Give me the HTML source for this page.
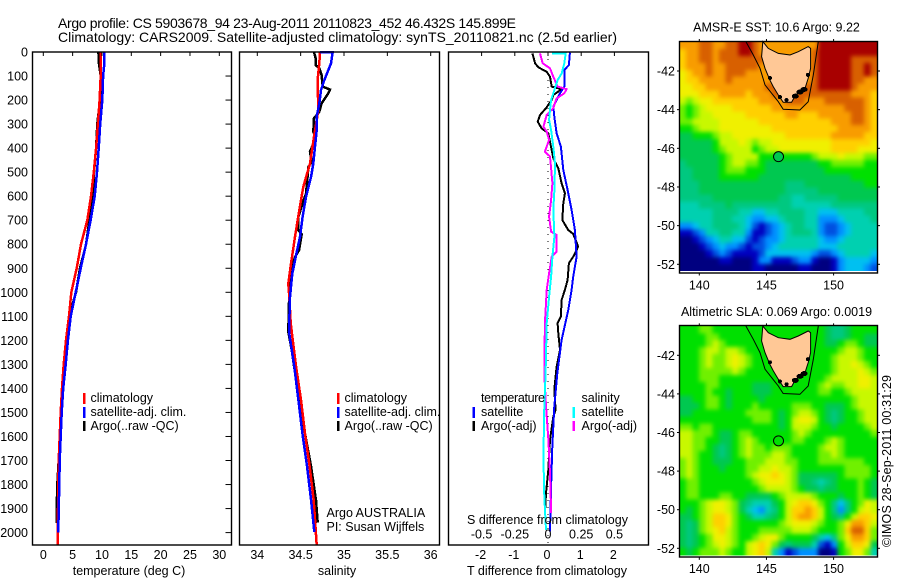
<!DOCTYPE html>
<html>
<head>
<meta charset="utf-8">
<title>Argo profile</title>
<style>
html,body{margin:0;padding:0;background:#fff;}
svg{display:block;}
text{font-family:"Liberation Sans",sans-serif;font-size:12.5px;fill:#000;}
.frame{fill:none;stroke:#000;stroke-width:1.4;}
</style>
</head>
<body>
<svg id="chart" width="900" height="580" viewBox="0 0 900 580" xmlns="http://www.w3.org/2000/svg">
  <defs>
    <filter id="soften" x="-5%" y="-5%" width="110%" height="110%" color-interpolation-filters="sRGB">
      <feGaussianBlur stdDeviation="2"/>
    </filter>
    <clipPath id="clip-sst"><rect x="679.5" y="42" width="198" height="229"/></clipPath>
    <clipPath id="clip-sla"><rect x="679.5" y="326" width="198" height="229.5"/></clipPath>
  </defs>
  <text x="58" y="28" style="font-size:14px" textLength="458">Argo profile: CS 5903678_94 23-Aug-2011 20110823_452 46.432S 145.899E</text>
  <text x="58" y="42" style="font-size:14px" textLength="559">Climatology: CARS2009. Satellite-adjusted climatology: synTS_20110821.nc (2.5d earlier)</text>

  <g clip-path="url(#clip-sst)"><g id="heat-sst" filter="url(#soften)"></g></g>
  <g clip-path="url(#clip-sla)"><g id="heat-sla" filter="url(#soften)"></g></g>
  <g id="marks"></g>

  <rect class="frame" x="32.5" y="52" width="199" height="493"/>
  <rect class="frame" x="239.5" y="52" width="200" height="493"/>
  <rect class="frame" x="448.5" y="52" width="200" height="493"/>
  <rect class="frame" x="679.5" y="41.5" width="198" height="231.5"/>
  <rect class="frame" x="679.5" y="325.5" width="198" height="231.5"/>

  <g>
    <text x="90.5" y="402">climatology</text>
    <text x="90.5" y="416">satellite-adj. clim.</text>
    <text x="90.5" y="430">Argo(..raw -QC)</text>
    <rect x="83" y="393" width="2.5" height="11" fill="#f00"/>
    <rect x="83" y="407" width="2.5" height="11" fill="#00f"/>
    <rect x="83" y="421" width="2.5" height="10" fill="#000"/>
  </g>
  <g>
    <text x="344.5" y="402">climatology</text>
    <text x="344.5" y="416">satellite-adj. clim.</text>
    <text x="344.5" y="430">Argo(..raw -QC)</text>
    <rect x="337" y="393" width="2.5" height="11" fill="#f00"/>
    <rect x="337" y="407" width="2.5" height="11" fill="#00f"/>
    <rect x="337" y="421" width="2.5" height="10" fill="#000"/>
    <text x="326.5" y="517">Argo AUSTRALIA</text>
    <text x="326.5" y="531">PI: Susan Wijffels</text>
  </g>
  <g>
    <text x="481" y="402" textLength="64">temperature</text>
    <text x="481" y="416">satellite</text>
    <text x="481" y="430">Argo(-adj)</text>
    <rect x="472.5" y="407" width="2.5" height="11" fill="#00f"/>
    <rect x="472.5" y="421" width="2.5" height="10" fill="#000"/>
    <text x="581.5" y="402">salinity</text>
    <text x="581.5" y="416">satellite</text>
    <text x="581.5" y="430">Argo(-adj)</text>
    <rect x="572.5" y="407" width="2.5" height="11" fill="#0ff"/>
    <rect x="572.5" y="421" width="2.5" height="10" fill="#f0f"/>
  </g>

  <text x="129" y="575" text-anchor="middle">temperature (deg C)</text>
  <text x="337" y="575" text-anchor="middle">salinity</text>
  <text x="547" y="575" text-anchor="middle">T difference from climatology</text>
  <text x="547.5" y="524" text-anchor="middle">S difference from climatology</text>
  <text x="776.5" y="31.5" text-anchor="middle">AMSR-E SST: 10.6 Argo: 9.22</text>
  <text x="776.5" y="316" text-anchor="middle">Altimetric SLA: 0.069 Argo: 0.0019</text>
  <text x="891" y="547" transform="rotate(-90 891 547)" textLength="172">©IMOS 28-Sep-2011 00:31:29</text>
</svg>
<script>
// ---- profile data ----
const tempTicks = [0, 5, 10, 15, 20, 25, 30];
const salTicks = [34, 34.5, 35, 35.5, 36];
const salTickLabels = ['34', '34.5', '35', '35.5', '36'];
const tDiffTicks = [-2, -1, 0, 1, 2];
const sDiffTicks = [-0.5, -0.25, 0, 0.25, 0.5];
const sDiffTickLabels = ['-0.5', '-0.25', '0', '0.25', '0.5'];
const depthTicks = [0,100,200,300,400,500,600,700,800,900,1000,1100,1200,1300,1400,1500,1600,1700,1800,1900,2000];

const tempDepthClim = [0,100,200,300,400,500,600,700,800,900,1000,1100,1200,1300,1400,1500,1600,1700,1800,1900,2000,2052];
const tempClim = [9.83,9.78,9.6,9.3,9.0,8.6,8.13,7.5,6.43,5.7,4.78,4.38,3.87,3.47,3.19,2.96,2.79,2.62,2.56,2.5,2.45,2.45];
const tempDepthSat = [0,50,100,200,300,400,500,600,700,800,900,1000,1100,1200,1300,1400,1500,1600,1700,1800,1900,2000];
const tempSat = [10.35,10.4,10.2,10.05,9.7,9.44,9.15,8.76,8.07,7.28,6.37,5.52,4.67,4.2,3.82,3.4,3.13,2.96,2.79,2.73,2.62,2.56];
const tempDepthArgo = [0,50,100,200,300,400,500,600,700,800,900,1000,1100,1200,1300,1400,1500,1600,1700,1800,1900,1960];
const tempArgo = [9.4,9.5,9.78,9.66,9.2,9.0,8.64,8.5,7.85,7.3,6.25,5.57,4.4,3.98,3.6,3.3,3.1,2.85,2.62,2.39,2.28,2.28];

const salDepthClim = [0,47,117,242,353,464,561,658,769,881,964,1019,1129,1310,1448,1587,1726,1865,2052];
const salClim = [34.723,34.715,34.696,34.704,34.654,34.608,34.531,34.485,34.435,34.389,34.358,34.369,34.385,34.447,34.504,34.55,34.604,34.65,34.685];
const salDepthSat = [0,0,47,75,117,158,214,269,325,394,464,519,603,686,769,853,922,1019,1164,1310,1448,1587,1726,1865,1997];
const salSat = [34.723,34.87,34.85,34.82,34.773,34.735,34.715,34.685,34.685,34.665,34.646,34.62,34.562,34.523,34.493,34.443,34.404,34.377,34.366,34.427,34.474,34.52,34.574,34.62,34.658];
const salDepthArgo = [0,26,54,68,96,144,156,172,193,214,249,276,332,346,388,415,457,478,533,589,631,686,742,758,825,853,908,992,1164,1240,1504,1587,1726,1865,1959];
const salArgo = [34.654,34.673,34.673,34.715,34.742,34.754,34.838,34.819,34.78,34.742,34.715,34.654,34.646,34.662,34.639,34.608,34.627,34.589,34.577,34.562,34.523,34.473,34.473,34.512,34.481,34.435,34.385,34.369,34.358,34.397,34.504,34.55,34.62,34.677,34.697];

const tDiffDepthArgo = [6,47,64,82,103,144,155,179,200,234,262,290,318,338,394,442,484,546,588,630,699,741,757,810,852,879,949,990,1032,1101,1129,1170,1240,1309,1406,1489,1517,1614,1739,1836,1919];
const tDiffArgo = [-0.47,-0.39,-0.29,-0.04,0.06,0.11,0.41,0.16,0.11,-0.06,-0.24,-0.31,-0.19,0.01,0.09,0.16,0.31,0.41,0.51,0.46,0.43,0.61,0.76,0.91,0.76,0.63,0.59,0.51,0.41,0.39,0.29,0.31,0.36,0.26,0.19,0.23,0.16,0.06,0.01,-0.06,-0.09];
const tDiffDepthSat = [3,54,75,144,172,227,269,338,394,491,574,657,741,852,935,990,1073,1198,1337,1475,1642,1822,1996];
const tDiffSat = [0.66,0.63,0.49,0.49,0.36,0.16,0.19,0.26,0.39,0.46,0.59,0.71,0.81,0.86,0.76,0.71,0.61,0.41,0.28,0.19,0.13,0.09,0.06];
const sDiffDepthArgo = [6,47,68,103,144,155,172,193,234,262,311,331,366,415,435,484,546,616,685,748,761,831,852,921,990,1129,1337,1475,1614,1753,1905,1919];
const sDiffArgo = [-0.06,-0.04,0.015,0.04,0.073,0.14,0.123,0.065,0.04,-0.01,-0.035,-0.01,0.008,-0.023,0.015,0.023,0.033,0.023,0.008,0.023,0.065,0.065,0.028,0.008,-0.01,-0.023,-0.028,-0.015,0.003,0.015,0.023,0.023];
const sDiffDepthSat = [6,6,47,89,116,158,200,241,283,325,394,464,574,657,769,852,935,1018,1129,1337,1475,1684,1850,1989];
const sDiffSat = [0.03,0.133,0.123,0.103,0.073,0.048,0.023,0.015,0.008,0.023,0.04,0.053,0.048,0.04,0.048,0.033,0.023,0.008,-0.01,-0.018,-0.028,-0.035,-0.028,-0.015];

// ---- map data ----
const mapLonTicks = [140, 145, 150];
const mapLatTicks = [-42, -44, -46, -48, -50, -52];
const coastLon = [144.73,144.64,144.89,145.26,145.51,145.88,146.25,146.87,147.17,147.87,148.11,148.29,148.29,148.11,147.37,146.75,145.88,145.14];
const coastLat = [-40.48,-41.26,-41.86,-42.47,-42.81,-43.24,-43.62,-43.62,-43.24,-42.9,-42.38,-41.86,-40.83,-40.74,-41.0,-41.17,-41.09,-40.83];
const shelfLon = [143.47,144.02,144.52,144.89,145.88,146.25,147.49,148.11,148.49,148.86];
const shelfLat = [-40.48,-41.17,-41.86,-42.72,-43.59,-43.98,-44.02,-43.59,-42.21,-40.48];
const inletLon = [147.5,147.15,147.8,146.0,148.09,145.26,146.5];
const inletLat = [-43.09,-43.3,-42.95,-43.35,-42.2,-42.36,-43.5];
const argoLon = 145.899;
const argoLat = -46.432;
const argoSstLevel = 7;
const argoSlaLevel = 8;
const levelColors = ['#000080','#0000c0','#0050e0','#0090ff','#00c0f0','#00d0b0','#00c880','#00c850','#00e000','#70f000','#c8f800','#f0f000','#ffd000','#f89c00','#d86000','#a80000'];

const sstRows = [
[13,13,13,14,14,13,13,14,14,15,15,14,13,13,13,13,13,13,13,13,13,15,15,15,15,15,15,15,15,15],
[12,13,13,14,14,13,14,14,14,15,15,14,13,13,13,13,13,13,13,13,14,15,15,15,15,15,15,15,15,15],
[12,13,13,14,14,13,14,14,14,14,14,14,14,13,13,13,13,13,13,13,14,15,15,15,15,15,14,14,14,14],
[12,13,13,13,14,13,13,14,14,14,14,14,13,13,13,13,13,13,13,13,14,15,15,15,15,15,14,14,15,14],
[11,12,13,13,14,13,13,14,14,14,13,13,13,13,13,13,13,13,13,13,14,15,15,15,15,15,14,14,15,14],
[11,12,12,13,13,13,13,14,13,13,13,13,13,13,13,13,13,13,13,13,14,15,15,15,15,15,14,14,13,13],
[11,11,12,12,13,13,13,13,13,13,13,13,13,14,14,14,14,14,14,14,14,15,15,15,15,15,14,13,13,13],
[11,11,11,12,12,12,13,13,13,13,12,13,13,13,14,14,14,14,14,14,14,14,14,14,14,14,13,13,13,12],
[10,9,10,11,11,12,12,12,12,12,12,12,13,13,13,13,14,14,14,13,13,13,14,14,14,14,14,14,13,12],
[9,8,9,10,11,11,11,11,12,12,12,12,12,12,13,13,13,13,13,13,13,13,13,13,13,14,14,14,13,12],
[9,8,9,10,10,11,11,11,11,11,12,12,12,12,12,12,13,13,12,12,12,13,13,13,13,13,14,14,13,12],
[9,9,10,10,10,10,11,11,11,11,11,11,12,12,12,12,12,12,12,12,12,12,12,13,13,13,14,14,13,12],
[8,8,9,10,10,10,11,11,11,11,11,11,11,11,12,12,12,12,12,12,12,12,12,12,13,13,13,13,13,12],
[7,7,8,8,8,9,10,10,11,11,11,11,11,11,11,11,12,12,12,12,12,12,12,13,13,13,13,13,12,12],
[7,7,7,7,7,8,10,10,10,11,10,9,10,10,11,11,11,11,11,11,11,11,11,12,12,12,12,12,12,11],
[7,7,7,7,7,8,9,10,10,10,10,8,9,10,10,11,11,11,11,11,11,11,11,12,12,12,12,11,11,11],
[7,7,7,7,7,7,8,9,10,10,10,10,8,8,8,8,8,8,8,8,9,10,10,10,11,10,10,10,9,9],
[6,7,7,7,7,7,8,9,10,10,9,9,8,7,7,7,7,7,7,7,7,8,8,9,9,9,9,9,8,8],
[6,6,7,7,7,7,8,9,9,9,8,8,8,7,7,7,7,7,7,7,7,7,8,8,8,8,8,8,8,8],
[6,6,7,7,7,7,8,8,8,8,8,8,7,7,7,7,7,7,7,7,7,7,7,7,7,7,8,8,8,8],
[6,6,6,7,7,7,7,7,7,7,7,7,7,7,7,7,6,6,6,7,7,7,7,7,7,7,7,7,8,8],
[6,6,6,7,7,7,7,7,7,7,7,7,7,7,7,7,6,6,6,6,6,7,7,7,7,7,7,7,7,7],
[6,6,6,6,6,7,7,7,7,7,7,7,7,7,7,6,6,5,5,6,6,6,6,6,7,7,7,7,7,7],
[5,5,5,6,6,6,6,7,6,6,6,6,6,6,6,6,6,5,5,5,5,5,5,6,6,6,6,6,6,6],
[5,5,5,5,5,6,6,6,6,5,5,4,4,5,5,6,6,6,6,5,5,4,4,4,5,5,5,5,6,6],
[5,5,5,5,5,6,6,6,5,5,4,3,3,4,4,5,6,6,6,5,5,3,3,3,4,5,5,5,5,6],
[3,3,4,5,5,6,6,6,6,5,4,2,1,2,3,4,5,6,6,5,5,3,2,2,3,4,5,5,5,5],
[1,1,2,3,5,5,6,6,5,5,3,1,1,2,3,4,5,6,6,6,5,3,2,2,3,4,5,5,5,5],
[0,0,1,2,3,4,5,5,4,4,2,1,2,3,3,4,5,5,5,5,5,4,3,3,4,5,5,5,5,5],
[0,0,0,1,2,3,4,3,3,2,1,2,2,3,4,5,5,5,5,5,5,4,4,4,5,5,5,5,5,5],
[0,0,0,0,1,2,3,2,1,1,1,1,2,4,4,4,4,4,4,4,3,2,2,3,4,5,5,5,5,4],
[0,0,0,0,0,0,1,1,0,0,0,1,3,3,1,1,1,2,3,3,1,0,0,1,3,4,4,4,4,3],
[0,0,0,0,0,0,0,0,0,0,0,1,1,0,0,0,0,0,1,1,0,0,0,1,3,4,4,4,3,2]
];

const slaRows = [
[8,8,8,9,9,8,8,8,8,8,8,8,8,8,8,8,8,8,8,8,8,8,7,6,6,7,8,8,8,8],
[8,8,8,8,9,9,8,8,8,8,8,8,8,8,8,8,8,8,8,8,8,8,7,6,6,7,8,8,7,7],
[8,8,8,8,9,10,9,8,8,8,8,8,8,8,8,8,8,8,8,8,8,8,7,7,8,9,9,8,7,7],
[8,8,8,9,10,10,9,10,10,9,8,8,8,8,8,8,8,8,8,8,8,8,8,8,9,10,10,9,8,8],
[8,8,8,9,10,9,9,10,11,10,9,8,8,8,8,8,8,8,8,8,8,8,8,9,10,10,10,9,8,8],
[8,8,8,9,10,9,9,10,11,10,9,8,8,8,8,8,8,8,8,8,8,8,8,9,10,10,11,10,9,8],
[8,8,8,9,9,9,9,9,10,9,8,8,8,8,8,8,8,8,8,8,8,8,8,9,10,10,10,11,10,9],
[8,8,8,9,9,9,8,8,8,8,8,8,8,8,8,8,8,8,8,8,8,8,9,10,10,10,10,11,11,10],
[8,8,8,8,9,9,8,8,8,8,8,7,7,7,8,8,8,8,8,8,8,9,10,9,9,10,10,11,11,10],
[8,8,8,8,9,8,8,7,8,8,8,7,7,7,8,8,8,8,8,8,8,9,9,8,8,9,10,10,10,10],
[7,7,8,8,9,9,8,7,8,8,8,8,7,8,8,8,8,8,8,8,8,8,8,8,8,8,9,10,10,10],
[7,7,7,8,9,9,8,7,8,8,8,9,8,8,8,8,8,9,9,9,8,8,7,7,7,8,9,10,10,10],
[7,7,8,8,8,8,8,8,8,8,9,9,9,9,8,7,8,9,10,10,9,8,7,6,7,8,8,9,10,10],
[8,8,8,8,8,8,8,8,8,8,8,9,9,9,8,7,8,10,11,11,10,8,7,6,7,8,8,9,10,10],
[9,9,8,9,9,8,8,8,8,8,8,8,8,8,8,7,8,10,10,10,9,8,8,7,8,8,8,8,9,10],
[10,10,9,9,9,8,7,7,8,9,9,8,8,8,8,8,8,9,10,9,8,8,8,8,8,8,8,8,8,9],
[10,10,9,9,8,8,7,7,8,9,10,9,8,8,8,8,8,9,9,8,8,8,9,10,9,8,8,8,8,8],
[10,10,9,9,8,7,6,7,8,9,10,9,9,8,9,9,9,8,8,8,8,9,10,10,9,8,8,8,8,8],
[10,10,9,8,8,7,6,7,8,9,10,9,9,9,10,10,9,8,8,8,8,9,9,10,9,8,8,8,8,8],
[9,10,9,8,8,7,7,7,8,8,9,9,9,10,10,10,9,9,8,8,8,9,9,9,9,9,9,9,8,8],
[9,10,9,8,8,8,7,8,8,8,9,9,10,10,11,10,10,9,8,8,8,8,8,8,8,9,9,9,9,8],
[9,10,9,8,8,8,8,8,8,8,9,10,11,11,12,11,10,9,7,7,7,7,7,7,8,9,9,9,9,8],
[8,9,9,8,8,8,8,8,8,8,8,9,10,11,11,11,10,9,7,7,6,5,6,7,8,8,8,9,8,7],
[8,9,9,8,8,8,8,8,8,8,8,8,9,10,10,10,10,9,8,7,7,6,7,7,8,8,8,9,8,7],
[8,9,9,8,8,8,9,9,8,8,7,7,7,7,8,9,10,10,10,10,9,8,8,8,7,8,8,9,8,7],
[8,8,8,9,10,11,11,10,9,7,6,5,5,5,7,8,10,11,12,12,11,9,8,6,4,6,8,9,11,10],
[8,7,8,9,10,11,11,10,9,7,5,4,3,5,6,8,10,12,12,13,12,10,8,6,3,6,8,10,11,10],
[7,7,8,9,10,12,12,11,9,8,7,5,5,6,7,8,10,12,13,13,12,10,8,7,6,8,10,12,12,11],
[7,6,7,9,10,12,12,11,9,8,8,8,8,8,8,9,10,11,11,11,10,9,8,8,9,11,13,13,12,10],
[7,6,7,9,10,11,12,10,9,8,8,8,9,9,9,9,9,10,10,10,9,8,8,8,9,12,14,14,12,9],
[7,6,7,8,9,11,11,10,9,8,8,9,10,11,11,9,8,8,8,8,7,5,4,6,9,11,13,13,12,9],
[7,6,7,8,9,10,11,10,9,8,10,11,12,11,9,7,6,7,7,7,5,2,1,3,8,10,12,12,11,7],
[8,7,8,9,9,9,10,9,8,8,10,11,12,10,5,3,1,2,3,3,3,0,0,1,8,9,11,11,9,5]
];

// ---- axis functions ----
const SVGNS = 'http://www.w3.org/2000/svg';
const marks = document.getElementById('marks');
const depthY = d => 52 + d * 0.2403;
const tempX = t => 43.3 + t * 5.867;
const salX = s => 257.3 + (s - 34) * 86.7;
const tDiffX = t => 548 + t * 33.2;
const sDiffX = s => 548 + s * 4 * 33.2;
const lonX = lon => 699.3 + (lon - 140) * 13.43;
const sstLatY = lat => 71 + (-42 - lat) * 19.33;
const slaLatY = lat => 355.3 + (-42 - lat) * 19.3;
const lonEdge = 138.51;
const lonCell = 14.74 / 30;
const latEdge = -40.5;
const latCell = 11.84 / 33;

function svgEl(tag, parent) {
  const el = document.createElementNS(SVGNS, tag);
  parent.appendChild(el);
  return el;
}

function drawProfile(xFn, depths, values, color, width, name) {
  const pts = values.map((v, i) => xFn(v).toFixed(1) + ',' + depthY(depths[i]).toFixed(1)).join(' ');
  const el = svgEl('polyline', marks);
  el.setAttribute('points', pts);
  el.setAttribute('fill', 'none');
  el.setAttribute('stroke', color);
  el.setAttribute('stroke-width', width);
  el.setAttribute('shape-rendering', 'crispEdges');
  
  
}

function drawTick(x1, y1, x2, y2) {
  const el = svgEl('line', marks);
  el.setAttribute('x1', x1);
  el.setAttribute('y1', y1);
  el.setAttribute('x2', x2);
  el.setAttribute('y2', y2);
  el.setAttribute('stroke', '#000');
  el.setAttribute('stroke-width', '1');
  
  
}

function drawLabel(x, y, str, anchor) {
  const el = svgEl('text', marks);
  el.setAttribute('x', x);
  el.setAttribute('y', y);
  el.setAttribute('text-anchor', anchor);
  el.textContent = str;
  
  
}

function drawHeat(rows, groupId, latY, name) {
  const g = document.getElementById(groupId);
  const bleed = 8; // outer cells run past the clipped field so the softening does not fade at its edges
  rows.forEach((row, r) => {
    row.forEach((level, c) => {
      let x0 = lonX(lonEdge + c * lonCell);
      let x1 = lonX(lonEdge + (c + 1) * lonCell);
      let y0 = latY(latEdge - r * latCell);
      let y1 = latY(latEdge - (r + 1) * latCell);
      if (c === 0) x0 -= bleed;
      if (c === row.length - 1) x1 += bleed;
      if (r === 0) y0 -= bleed;
      if (r === rows.length - 1) y1 += bleed;
      const cell = svgEl('rect', g);
      cell.setAttribute('x', x0.toFixed(2));
      cell.setAttribute('y', y0.toFixed(2));
      cell.setAttribute('width', (x1 - x0 + 0.4).toFixed(2));
      cell.setAttribute('height', (y1 - y0 + 0.4).toFixed(2));
      cell.setAttribute('fill', levelColors[level]);
      cell.setAttribute('shape-rendering', 'crispEdges');
      
      
    });
  });
}

function drawOverlay(latY, argoLevel, tickLabelY, prefix) {
  const toPts = (lons, lats) => lons.map((lon, i) => lonX(lon).toFixed(1) + ',' + latY(lats[i]).toFixed(1)).join(' ');
  const shelf = svgEl('polyline', marks);
  shelf.setAttribute('points', toPts(shelfLon, shelfLat));
  shelf.setAttribute('fill', 'none');
  shelf.setAttribute('stroke', '#000');
  shelf.setAttribute('stroke-width', '1');
  
  

  const land = svgEl('polygon', marks);
  land.setAttribute('points', toPts(coastLon, coastLat));
  land.setAttribute('fill', '#ffc896');
  land.setAttribute('stroke', '#000');
  land.setAttribute('stroke-width', '1');
  
  

  inletLon.forEach((lon, i) => {
    const inlet = svgEl('ellipse', marks);
    inlet.setAttribute('cx', lonX(lon));
    inlet.setAttribute('cy', latY(inletLat[i]));
    inlet.setAttribute('rx', i < 3 ? 3.5 : 2);
    inlet.setAttribute('ry', i < 3 ? 2.5 : 2);
    inlet.setAttribute('fill', '#000');
    inlet.setAttribute('shape-rendering', 'crispEdges');
    
    
  });

  const argo = svgEl('circle', marks);
  argo.setAttribute('cx', lonX(argoLon));
  argo.setAttribute('cy', latY(argoLat));
  argo.setAttribute('r', '5');
  argo.setAttribute('fill', levelColors[argoLevel]);
  argo.setAttribute('stroke', '#000');
  argo.setAttribute('stroke-width', '1');
  
  

  const top = latY(latEdge) - 0.5;
  const bottom = top + 231.5;
  mapLonTicks.forEach(lon => {
    drawTick(lonX(lon), top, lonX(lon), top - 2.5);
    drawTick(lonX(lon), bottom, lonX(lon), bottom + 2.5);
    drawLabel(lonX(lon), tickLabelY, String(lon), 'middle');
  });
  mapLatTicks.forEach(lat => {
    drawTick(679.5, latY(lat), 677, latY(lat));
    drawTick(877.5, latY(lat), 880, latY(lat));
    drawLabel(675, latY(lat) + 4.5, String(lat), 'end');
  });
}

// ---- draw ----
drawHeat(sstRows, 'heat-sst', sstLatY, 'sst-cell');
drawHeat(slaRows, 'heat-sla', slaLatY, 'sla-cell');

const dots = svgEl('line', marks);
dots.setAttribute('x1', tDiffX(0));
dots.setAttribute('x2', tDiffX(0));
dots.setAttribute('y1', depthY(0));
dots.setAttribute('y2', depthY(2052));
dots.setAttribute('stroke', '#000');
dots.setAttribute('stroke-width', '1');
dots.setAttribute('stroke-dasharray', '1 6');



drawProfile(tempX, tempDepthArgo, tempArgo, '#000', 2.5, 'temperature-argo-line');
drawProfile(tempX, tempDepthClim, tempClim, '#f00', 2.5, 'temperature-climatology-line');
drawProfile(tempX, tempDepthSat, tempSat, '#00f', 2.5, 'temperature-satellite-line');

drawProfile(salX, salDepthArgo, salArgo, '#000', 2.5, 'salinity-argo-line');
drawProfile(salX, salDepthClim, salClim, '#f00', 2.5, 'salinity-climatology-line');
drawProfile(salX, salDepthSat, salSat, '#00f', 2.5, 'salinity-satellite-line');

drawProfile(tDiffX, tDiffDepthArgo, tDiffArgo, '#000', 2, 't-difference-argo-line');
drawProfile(tDiffX, tDiffDepthSat, tDiffSat, '#00f', 2, 't-difference-satellite-line');
drawProfile(sDiffX, sDiffDepthArgo, sDiffArgo, '#f0f', 2, 's-difference-argo-line');
drawProfile(sDiffX, sDiffDepthSat, sDiffSat, '#0ff', 2, 's-difference-satellite-line');

tempTicks.forEach(t => {
  drawTick(tempX(t), 52, tempX(t), 56);
  drawLabel(tempX(t), 559, String(t), 'middle');
});
salTicks.forEach((s, i) => {
  drawTick(salX(s), 52, salX(s), 56);
  drawLabel(salX(s), 559, salTickLabels[i], 'middle');
});
tDiffTicks.forEach(t => {
  drawTick(tDiffX(t), 52, tDiffX(t), 56);
  drawLabel(tDiffX(t) - 1, 559, String(t), 'middle');
});
sDiffTicks.forEach((s, i) => {
  drawLabel(sDiffX(s), 538.5, sDiffTickLabels[i], 'middle');
});
depthTicks.forEach(d => {
  drawTick(231.5, depthY(d), 225.5, depthY(d));
  drawLabel(28, depthY(d) + 4.5, String(d), 'end');
});

drawOverlay(sstLatY, argoSstLevel, 289.5, 'sst');
drawOverlay(slaLatY, argoSlaLevel, 573, 'sla');
</script>
</body>
</html>
